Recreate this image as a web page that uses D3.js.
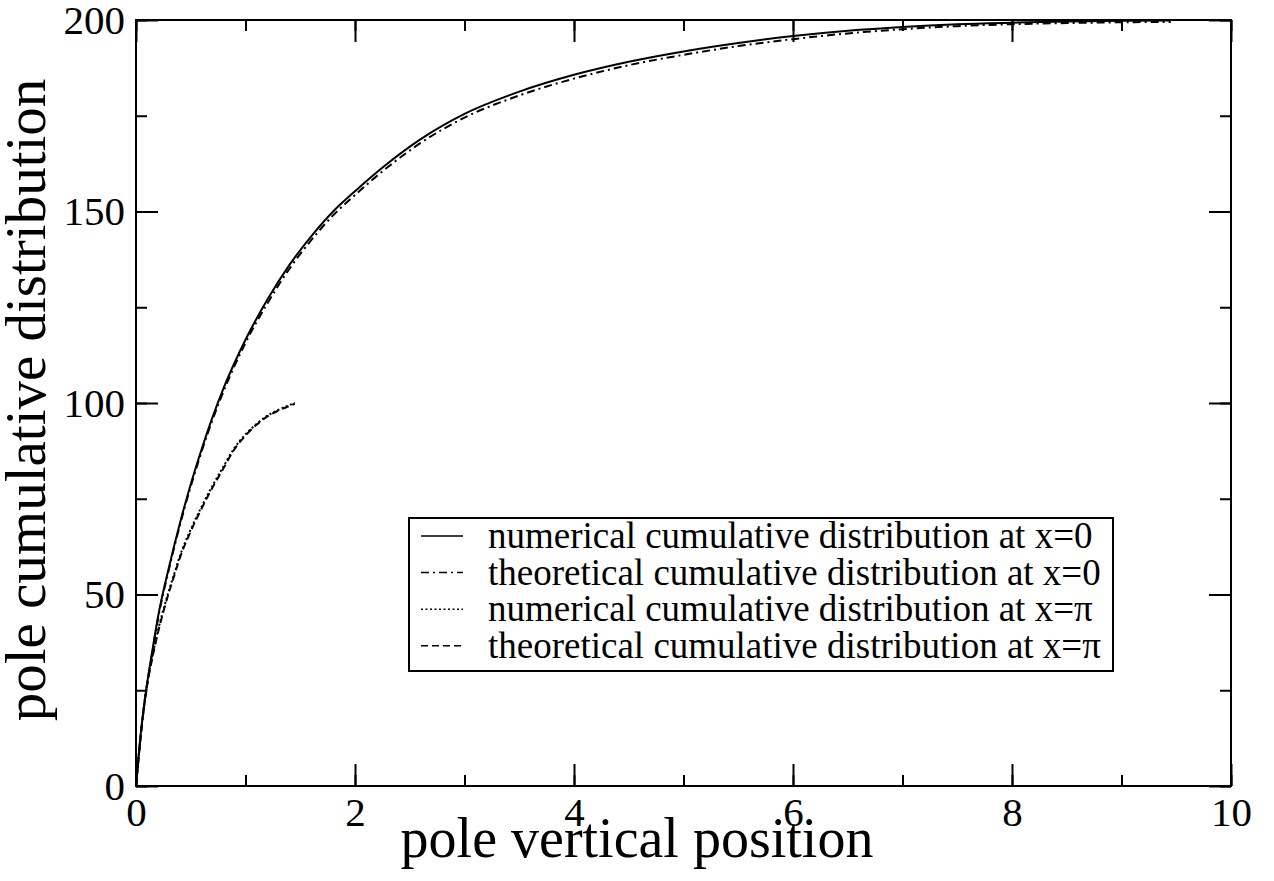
<!DOCTYPE html>
<html>
<head>
<meta charset="utf-8">
<script src="https://cdn.jsdelivr.net/npm/d3@7"></script>
<style>
    body { margin: 0; background: #fff; }
    svg { display: block; }
</style>
</head>
<body>
<div id="chart"></div>
<script>
// values
const zeroX = [0, 0.05, 0.1, 0.15, 0.2, 0.3, 0.4, 0.5, 0.6, 0.7, 0.8, 0.9, 1.0, 1.2, 1.4, 1.6, 1.8, 2.0,
    2.3, 2.6, 3.0, 3.5, 4.0, 4.5, 5.0, 5.5, 6.0, 6.5, 7.0, 7.5, 8.0, 8.5, 9.0, 9.45];
const numZero = [0, 15.5, 26.5, 35.5, 44, 57, 68.5, 78.8, 88, 96.4, 103.9, 110.5, 116.5, 127, 136, 143.5, 150, 155.3,
    162.6, 168.9, 175.5, 181.3, 185.7, 189.1, 191.8, 194, 195.8, 197.2, 198.2, 198.9, 199.3, 199.6, 199.8, 199.9];
const theoZero = [0, 15, 26, 35, 43.5, 56.5, 68, 78.2, 87.4, 95.7, 103.1, 109.7, 115.7, 126, 135, 142.5, 149, 154.3,
    161.6, 167.9, 174.5, 180.3, 184.7, 188.2, 190.9, 193.2, 195.0, 196.5, 197.6, 198.4, 198.9, 199.2, 199.4, 199.5];

const piX = [0, 0.03, 0.075, 0.1, 0.15, 0.2, 0.25, 0.3, 0.35, 0.4, 0.5, 0.6, 0.7, 0.8, 0.9, 1.0, 1.1, 1.2, 1.3, 1.45];
const numPi = [0, 9.5, 21.5, 26.5, 34, 40.5, 46, 51, 55.5, 60, 67, 73, 78.5, 83.5, 88.3, 91.8, 94.5, 96.7, 98.2, 100];
const theoPi = [0, 9, 21, 26, 33.5, 40, 45.5, 50.5, 55, 59.5, 66.5, 72.5, 78, 83, 88, 91.5, 94.3, 96.5, 98, 99.8];

const legendLabels = [
    "numerical cumulative distribution at x=0",
    "theoretical cumulative distribution at x=0",
    "numerical cumulative distribution at x=\u03c0",
    "theoretical cumulative distribution at x=\u03c0"
];
const xMajorTicks = [0, 2, 4, 6, 8, 10];
const yMajorTicks = [0, 50, 100, 150, 200];

const width = 1274, height = 881;
const margin = { top: 20, right: 43, bottom: 95, left: 136 };
const innerW = width - margin.left - margin.right;
const innerH = height - margin.top - margin.bottom;
const font = "'Liberation Serif', 'Times New Roman', serif";

const svg = d3.select("#chart").append("svg")
    .attr("width", width)
    .attr("height", height);

const chart = svg.append("g")
    .attr("transform", `translate(${margin.left}, ${margin.top})`);

const xScale = d3.scaleLinear().domain([0, 10]).range([0, innerW]);
const yScale = d3.scaleLinear().domain([0, 200]).range([innerH, 0]);

// series, drawn with their dash styles
const series = [
    { xs: zeroX, ys: numZero, dash: null },
    { xs: zeroX, ys: theoZero, dash: "8,4,2,4" },
    { xs: piX, ys: numPi, dash: "2,2.5" },
    { xs: piX, ys: theoPi, dash: "7,4" }
];

const line = d3.line()
    .x(d => xScale(d[0]))
    .y(d => yScale(d[1]))
    .curve(d3.curveMonotoneX);

chart.selectAll(".series")
    .data(series)
    .join("path")
    .attr("class", "series")
    .attr("d", d => line(d.xs.map((x, i) => [x, d.ys[i]])))
    .attr("fill", "none")
    .attr("stroke", "black")
    .attr("stroke-width", 2)
    .attr("stroke-dasharray", d => d.dash);

// axes: major and minor ticks pointing inward on all four sides
function styleAxis(g) {
    g.select(".domain").remove();
    g.selectAll(".tick line").attr("stroke", "black").attr("stroke-width", 2);
    g.attr("font-family", font).attr("font-size", 41);
    g.selectAll(".tick text").attr("fill", "black");
}

const xMinor = d3.range(0, 11, 1);
const yMinor = d3.range(0, 201, 25);

chart.append("g")
    .attr("transform", `translate(0, ${innerH})`)
    .call(d3.axisBottom(xScale).tickValues(xMinor).tickSize(-11).tickFormat(""))
    .call(styleAxis);
chart.append("g")
    .attr("transform", `translate(0, ${innerH})`)
    .call(d3.axisBottom(xScale).tickValues(xMajorTicks).tickSize(-22).tickPadding(11).tickFormat(d3.format("d")))
    .call(styleAxis);
chart.append("g")
    .call(d3.axisTop(xScale).tickValues(xMinor).tickSize(-11).tickFormat(""))
    .call(styleAxis);
chart.append("g")
    .call(d3.axisTop(xScale).tickValues(xMajorTicks).tickSize(-22).tickFormat(""))
    .call(styleAxis);

chart.append("g")
    .call(d3.axisLeft(yScale).tickValues(yMinor).tickSize(-11).tickFormat(""))
    .call(styleAxis);
chart.append("g")
    .call(d3.axisLeft(yScale).tickValues(yMajorTicks).tickSize(-22).tickPadding(11).tickFormat(d3.format("d")))
    .call(styleAxis);
chart.append("g")
    .attr("transform", `translate(${innerW}, 0)`)
    .call(d3.axisRight(yScale).tickValues(yMinor).tickSize(-11).tickFormat(""))
    .call(styleAxis);
chart.append("g")
    .attr("transform", `translate(${innerW}, 0)`)
    .call(d3.axisRight(yScale).tickValues(yMajorTicks).tickSize(-22).tickFormat(""))
    .call(styleAxis);

// frame
chart.append("rect")
    .attr("x", 0)
    .attr("y", 0)
    .attr("width", innerW)
    .attr("height", innerH)
    .attr("fill", "none")
    .attr("stroke", "black")
    .attr("stroke-width", 2);

// axis titles
svg.append("text")
    .attr("x", 637)
    .attr("y", 857)
    .attr("text-anchor", "middle")
    .attr("font-family", font)
    .attr("font-size", 56)
    .text("pole vertical position");

svg.append("text")
    .attr("transform", `translate(45, ${margin.top + innerH / 2 - 3}) rotate(-90)`)
    .attr("text-anchor", "middle")
    .attr("font-family", font)
    .attr("font-size", 57)
    .text("pole cumulative distribution");

// legend
const legend = svg.append("g").attr("transform", "translate(409, 518)");
const rowH = 36.6;

legend.append("rect")
    .attr("width", 704)
    .attr("height", 153)
    .attr("fill", "white")
    .attr("stroke", "black")
    .attr("stroke-width", 2);

const rows = legend.selectAll(".legend-row")
    .data(series)
    .join("g")
    .attr("class", "legend-row")
    .attr("transform", (d, i) => `translate(0, ${18 + i * rowH})`);

rows.append("line")
    .attr("x1", 12)
    .attr("x2", 54)
    .attr("stroke", "black")
    .attr("stroke-width", 1.5)
    .attr("stroke-dasharray", d => d.dash);

rows.append("text")
    .attr("x", 79)
    .attr("y", 12)
    .attr("font-family", font)
    .attr("font-size", 37)
    .text((d, i) => legendLabels[i]);
</script>
</body>
</html>
